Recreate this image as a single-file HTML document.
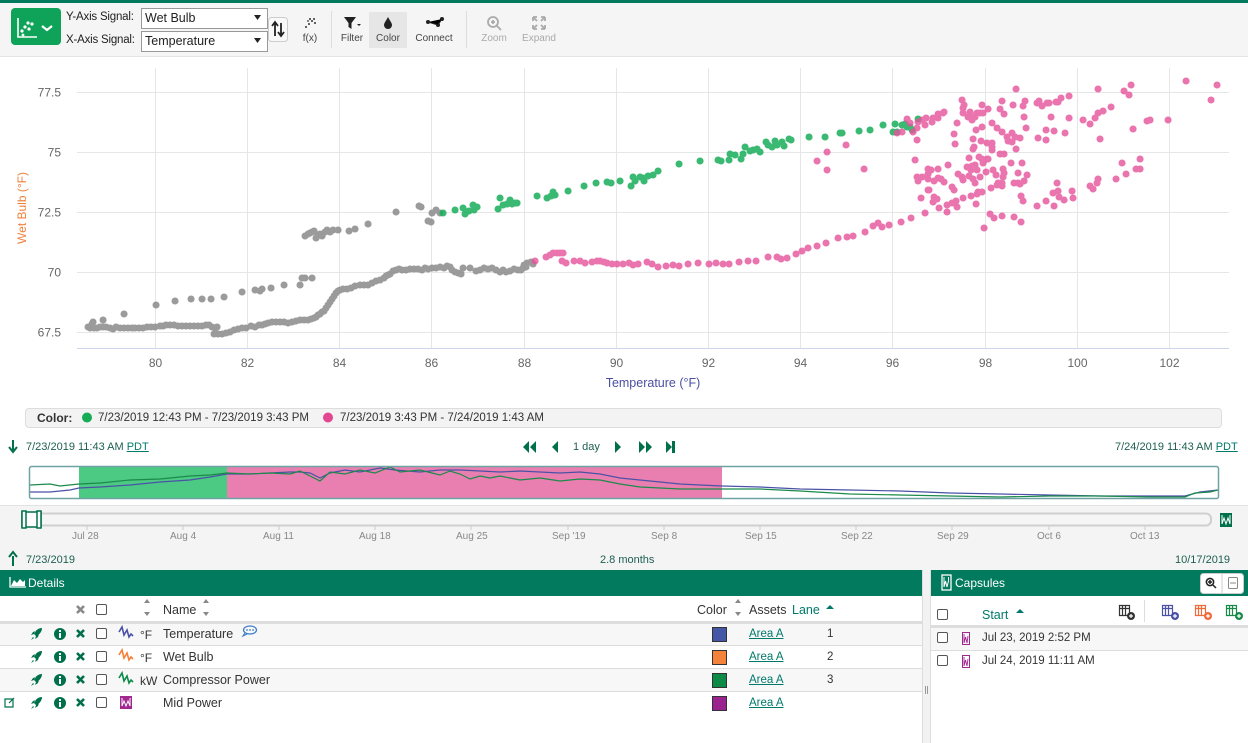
<!DOCTYPE html>
<html><head><meta charset="utf-8">
<style>
*{margin:0;padding:0;box-sizing:border-box}
body{width:1248px;height:743px;overflow:hidden;background:#fff;font-family:"Liberation Sans",sans-serif;color:#333;position:relative}
.a{position:absolute;white-space:nowrap}
.t{font-size:12px}
.lbl{font-size:10px;color:#444;text-align:center}
.g{color:#00704a}
.link{color:#00796b;text-decoration:underline}
.cb{position:absolute;width:11px;height:11px;border:1px solid #555;border-radius:2px;background:#fff}
</style></head><body>

<!-- backgrounds -->
<div class="a" style="left:0;top:0;width:1248px;height:3px;background:#027a5e"></div>
<div class="a" style="left:0;top:3px;width:1248px;height:54px;background:#f5f5f5;border-bottom:1px solid #e4e4e4"></div>
<div class="a" style="left:0;top:505px;width:1248px;height:65px;background:#f4f4f4;border-top:1px solid #e2e2e2"></div>
<div class="a" style="left:0;top:570px;width:922px;height:26px;background:#027a5e"></div>
<div class="a" style="left:931px;top:570px;width:317px;height:26px;background:#027a5e"></div>
<div class="a" style="left:922px;top:570px;width:9px;height:173px;background:#f2f2f2;border-left:1px solid #ddd;border-right:1px solid #ddd"></div>
<!-- details rows -->
<div class="a" style="left:0;top:621px;width:922px;height:3px;background:#ddd"></div>
<div class="a" style="left:0;top:624px;width:922px;height:21px;background:#f7f7f7"></div>
<div class="a" style="left:0;top:645px;width:922px;height:1px;background:#ddd"></div>
<div class="a" style="left:0;top:668px;width:922px;height:1px;background:#ddd"></div>
<div class="a" style="left:0;top:669px;width:922px;height:22px;background:#f7f7f7"></div>
<div class="a" style="left:0;top:691px;width:922px;height:1px;background:#ddd"></div>
<!-- capsules rows -->
<div class="a" style="left:931px;top:625px;width:317px;height:3px;background:#ddd"></div>
<div class="a" style="left:931px;top:628px;width:317px;height:22px;background:#f7f7f7"></div>
<div class="a" style="left:931px;top:650px;width:317px;height:1px;background:#ddd"></div>
<div class="a" style="left:1144px;top:600px;width:1px;height:22px;background:#ddd"></div>

<!-- legend bar -->
<div class="a" style="left:25px;top:408px;width:1197px;height:20px;background:#f3f3f3;border:1px solid #ddd;border-radius:4px"></div>

<svg class="a" style="left:0;top:0" width="1248" height="743" viewBox="0 0 1248 743">
<!-- toolbar icons -->
<rect x="11" y="8" width="50" height="37" rx="4" fill="#0fa35a"/>
<path d="M18 18v19h19" stroke="#fff" stroke-width="1.6" fill="none"/>
<g fill="#fff"><circle cx="22" cy="31" r="1.6"/><circle cx="25" cy="27" r="1.6"/><circle cx="29" cy="29" r="1.6"/><circle cx="28" cy="23" r="1.6"/><circle cx="32" cy="24" r="1.6"/><circle cx="23" cy="35" r="1.4"/></g>
<path d="M42 26l5 4 5-4" stroke="#fff" stroke-width="2.2" fill="none"/>
<rect x="141.5" y="8.5" width="126" height="20" fill="#fff" stroke="#999"/>
<rect x="141.5" y="31.5" width="126" height="20" fill="#fff" stroke="#999"/>
<path d="M254 15h7l-3.5 5z M254 38h7l-3.5 5z" fill="#222"/>
<rect x="268.5" y="17.5" width="19" height="24" rx="3" fill="#f8f8f8" stroke="#ccc"/>
<path d="M275 23v13M272 26l3-4 3 4M281 23v13M278 32l3 4 3-4" stroke="#222" stroke-width="1.8" fill="none"/>
<g fill="#333"><circle cx="306" cy="27" r="1"/><circle cx="309" cy="24" r="1"/><circle cx="312" cy="21" r="1"/><circle cx="314" cy="19" r="1"/><circle cx="310" cy="19" r="1"/><circle cx="315" cy="23" r="1"/><circle cx="308" cy="21" r="0.9"/></g>
<rect x="331" y="11" width="1" height="37" fill="#ddd"/>
<path d="M344 17h12l-4.5 6v6l-3-2v-4z" fill="#222"/><path d="M357 24h4l-2 2z" fill="#222"/>
<rect x="369" y="12" width="38" height="36" fill="#e6e6e6"/>
<path d="M388 17c-2 4-4 6-4 8a4 4 0 0 0 8 0c0-2-2-4-4-8z" fill="#222"/>
<circle cx="428" cy="22" r="2" fill="#222"/><circle cx="438" cy="25" r="2" fill="#222"/><circle cx="442" cy="19" r="2" fill="#222"/><path d="M428 22l10 3 4-6" stroke="#222" stroke-width="1"/>
<rect x="466" y="11" width="1" height="37" fill="#ddd"/>
<circle cx="493" cy="22" r="5" stroke="#aaa" stroke-width="1.8" fill="none"/><path d="M497 26l4 4M491 22h4M493 20v4" stroke="#aaa" stroke-width="1.8"/>
<path d="M533 17l4 4M545 17l-4 4M533 29l4-4M545 29l-4-4M533 17h4M533 17v4M545 17h-4M545 17v4M533 29h4M533 29v-4M545 29h-4M545 29v-4" stroke="#aaa" stroke-width="1.8" fill="none"/>

<!-- grid -->
<g stroke="#e6e6e6" stroke-width="1">
<path d="M77 92.5H1229M77 152.5H1229M77 212.5H1229M77 272.5H1229M77 332.5H1229"/>
<path d="M155.5 68V348M247.5 68V348M339.5 68V348M431.5 68V348M524.5 68V348M616.5 68V348M708.5 68V348M800.5 68V348M892.5 68V348M985.5 68V348M1077.5 68V348M1169.5 68V348"/>
</g>
<path d="M77 348.5H1229" stroke="#ccd6eb" stroke-width="1"/>
<g font-family="Liberation Sans, sans-serif" font-size="12" fill="#666" text-anchor="end">
<text x="61" y="96.5">77.5</text><text x="61" y="156.5">75</text><text x="61" y="216.5">72.5</text><text x="61" y="276.5">70</text><text x="61" y="336.5">67.5</text>
</g>
<g font-family="Liberation Sans, sans-serif" font-size="12" fill="#666" text-anchor="middle">
<text x="155.5" y="367">80</text><text x="247.5" y="367">82</text><text x="339.5" y="367">84</text><text x="431.5" y="367">86</text><text x="524.5" y="367">88</text><text x="616.5" y="367">90</text><text x="708.5" y="367">92</text><text x="800.5" y="367">94</text><text x="892.5" y="367">96</text><text x="985.5" y="367">98</text><text x="1077.5" y="367">100</text><text x="1169.5" y="367">102</text>
</g>
<text x="653" y="387" font-family="Liberation Sans, sans-serif" font-size="12.5" fill="#4a4fa3" text-anchor="middle">Temperature (°F)</text>
<text transform="translate(26,208) rotate(-90)" font-family="Liberation Sans, sans-serif" font-size="12" fill="#f0813c" text-anchor="middle">Wet Bulb (°F)</text>

<!-- scatter: gray -->
<path stroke="#8a8a8a" stroke-opacity="0.85" stroke-width="7" stroke-linecap="round" fill="none" d="M88 327h.1M90 328h.1M92 324h.1M94 328h.1M97 328h.1M100 327h.1M103 327h.1M106 327h.1M110 328h.1M113 329h.1M116 327h.1M120 328h.1M124 328h.1M128 328h.1M132 328h.1M135 328h.1M139 328h.1M143 328h.1M147 327h.1M151 327h.1M155 327h.1M160 326h.1M163 326h.1M166 325h.1M170 325h.1M174 325h.1M178 326h.1M182 326h.1M186 326h.1M190 326h.1M194 326h.1M198 326h.1M202 326h.1M206 325h.1M209 325h.1M212 327h.1M215 328h.1M217 327h.1M214 334h.1M218 334h.1M222 334h.1M226 333h.1M230 332h.1M234 330h.1M238 329h.1M242 328h.1M246 328h.1M251 326h.1M255 327h.1M259 325h.1M262 325h.1M265 324h.1M268 323h.1M272 322h.1M276 322h.1M280 322h.1M284 322h.1M288 323h.1M292 322h.1M296 321h.1M300 320h.1M304 320h.1M308 320h.1M311 319h.1M314 318h.1M316 317h.1M318 315h.1M320 314h.1M322 312h.1M324 311h.1M326 308h.1M328 305h.1M330 302h.1M332 299h.1M334 296h.1M336 293h.1M338 291h.1M340 290h.1M343 289h.1M347 289h.1M351 288h.1M355 286h.1M360 285h.1M364 285h.1M368 285h.1M372 283h.1M376 281h.1M380 280h.1M384 278h.1M386 276h.1M388 275h.1M390 274h.1M393 271h.1M396 270h.1M399 269h.1M402 270h.1M406 270h.1M410 269h.1M414 269h.1M418 269h.1M422 270h.1M425 268h.1M428 269h.1M432 268h.1M436 268h.1M440 267h.1M444 268h.1M447 266h.1M450 267h.1M452 270h.1M455 272h.1M458 273h.1M461 274h.1M463 268h.1M470 268h.1M476 271h.1M480 270h.1M484 268h.1M488 269h.1M492 268h.1M496 270h.1M500 272h.1M503 270h.1M506 272h.1M510 271h.1M514 269h.1M518 270h.1M521 270h.1M523 268h.1M524 265h.1M526 267h.1M527 263h.1M531 262h.1M533 264h.1M93 322h.1M103 320h.1M124 314h.1M156 305h.1M175 301h.1M191 299h.1M202 299h.1M211 299h.1M224 297h.1M242 292h.1M255 290h.1M260 291h.1M262 289h.1M271 288h.1M284 285h.1M300 285h.1M302 278h.1M305 278h.1M312 278h.1M305 236h.1M308 234h.1M310 233h.1M312 232h.1M314 231h.1M316 238h.1M318 235h.1M320 234h.1M322 236h.1M325 232h.1M327 230h.1M330 232h.1M333 230h.1M338 230h.1M349 231h.1M355 229h.1M368 224h.1M396 212h.1M419 206h.1M421 207h.1M428 221h.1M431 222h.1M432 213h.1M436 210h.1M440 213h.1"/>
<!-- scatter: green -->
<path stroke="#17ad5a" stroke-opacity="0.85" stroke-width="7" stroke-linecap="round" fill="none" d="M443 213h.1M455 210h.1M463 208h.1M465 214h.1M469 211h.1M473 205h.1M474 210h.1M477 207h.1M498 209h.1M500 198h.1M503 205h.1M507 204h.1M510 200h.1M512 204h.1M515 203h.1M517 203h.1M537 196h.1M547 198h.1M551 196h.1M553 192h.1M555 195h.1M568 191h.1M584 186h.1M596 183h.1M607 182h.1M611 183h.1M620 181h.1M631 186h.1M633 177h.1M635 181h.1M640 177h.1M643 178h.1M644 181h.1M648 176h.1M653 175h.1M658 171h.1M679 164h.1M700 161h.1M718 160h.1M721 161h.1M729 160h.1M730 154h.1M735 155h.1M741 159h.1M743 154h.1M745 147h.1M750 151h.1M753 150h.1M757 149h.1M760 152h.1M766 142h.1M768 145h.1M772 147h.1M775 141h.1M777 145h.1M782 142h.1M784 146h.1M789 139h.1M791 140h.1M809 137h.1M825 137h.1M840 133h.1M842 133h.1M859 131h.1M870 130h.1M883 125h.1M895 124h.1M893 132h.1M897 132h.1M902 125h.1M905 124h.1M907 127h.1M910 127h.1M918 119h.1M912 130h.1"/>
<!-- scatter: pink -->
<path stroke="#e5529a" stroke-opacity="0.8" stroke-width="7" stroke-linecap="round" fill="none" d="M535 261h.1M546 257h.1M550 255h.1M553 253h.1M557 253h.1M560 253h.1M563 253h.1M562 261h.1M566 263h.1M574 261h.1M580 261h.1M585 263h.1M592 262h.1M597 261h.1M600 261h.1M604 262h.1M607 263h.1M612 264h.1M617 264h.1M623 264h.1M629 263h.1M633 265h.1M638 264h.1M647 262h.1M652 264h.1M658 267h.1M666 266h.1M673 265h.1M679 266h.1M688 264h.1M698 263h.1M709 264h.1M716 263h.1M723 264h.1M729 264h.1M739 262h.1M748 261h.1M756 261h.1M768 257h.1M777 257h.1M781 259h.1M787 258h.1M796 254h.1M802 251h.1M808 248h.1M817 246h.1M826 243h.1M838 238h.1M817 161h.1M827 152h.1M827 170h.1M847 237h.1M853 236h.1M865 232h.1M873 226h.1M878 223h.1M882 227h.1M889 225h.1M901 222h.1M911 218h.1M925 213h.1M846 145h.1M864 169h.1M897 133h.1M902 132h.1M907 119h.1M910 123h.1M913 132h.1M917 128h.1M918 122h.1M922 120h.1M926 118h.1M925 125h.1M932 122h.1M933 118h.1M938 118h.1M938 114h.1M943 113h.1M944 112h.1M917 140h.1M962 100h.1M963 108h.1M964 105h.1M963 113h.1M968 117h.1M970 112h.1M972 120h.1M973 117h.1M975 117h.1M977 113h.1M980 113h.1M982 105h.1M983 113h.1M988 109h.1M957 123h.1M954 134h.1M955 144h.1M976 130h.1M982 127h.1M973 139h.1M981 141h.1M974 147h.1M973 149h.1M987 143h.1M992 147h.1M992 143h.1M992 150h.1M992 123h.1M997 128h.1M1002 132h.1M1000 109h.1M1002 101h.1M1004 114h.1M1007 137h.1M1008 141h.1M1012 133h.1M1012 142h.1M1015 137h.1M1016 149h.1M1020 138h.1M1013 105h.1M1016 89h.1M1023 106h.1M1025 101h.1M1024 117h.1M1026 128h.1M1037 103h.1M1039 101h.1M1042 106h.1M1047 103h.1M1049 103h.1M1051 117h.1M1056 102h.1M1058 102h.1M1061 98h.1M1069 96h.1M1038 138h.1M1046 130h.1M1046 140h.1M1054 131h.1M1065 133h.1M1069 118h.1M1083 120h.1M1090 124h.1M1095 118h.1M1098 113h.1M1103 111h.1M1111 107h.1M1098 89h.1M1100 139h.1M1124 91h.1M1129 95h.1M1131 85h.1M1133 129h.1M1147 121h.1M1150 120h.1M1168 120h.1M1186 81h.1M1211 100h.1M1217 85h.1M915 160h.1M917 177h.1M918 181h.1M922 177h.1M928 174h.1M928 169h.1M931 170h.1M928 179h.1M928 190h.1M934 181h.1M938 178h.1M938 169h.1M941 179h.1M944 182h.1M948 165h.1M952 187h.1M954 190h.1M958 174h.1M962 177h.1M963 180h.1M967 167h.1M969 158h.1M969 176h.1M971 170h.1M972 166h.1M973 179h.1M975 165h.1M975 183h.1M977 170h.1M979 157h.1M980 177h.1M982 159h.1M983 163h.1M985 160h.1M986 172h.1M987 159h.1M988 159h.1M993 170h.1M996 175h.1M998 183h.1M1000 154h.1M1003 169h.1M1004 173h.1M1003 177h.1M1002 183h.1M1002 186h.1M1004 154h.1M1011 163h.1M1014 183h.1M1018 173h.1M1018 183h.1M1020 184h.1M1022 163h.1M1024 181h.1M1027 175h.1M991 188h.1M997 185h.1M921 198h.1M929 190h.1M933 202h.1M934 197h.1M937 199h.1M939 208h.1M947 205h.1M947 212h.1M952 203h.1M956 201h.1M957 207h.1M963 198h.1M971 196h.1M976 204h.1M977 194h.1M978 192h.1M982 192h.1M984 228h.1M990 214h.1M994 218h.1M1002 216h.1M1014 217h.1M1021 222h.1M1021 196h.1M1023 201h.1M1037 206h.1M1046 201h.1M1054 206h.1M1053 193h.1M1057 183h.1M1058 191h.1M1059 197h.1M1064 200h.1M1072 191h.1M1073 198h.1M1090 186h.1M1093 189h.1M1097 183h.1M1098 179h.1M1116 179h.1M1122 163h.1M1126 174h.1M1136 169h.1M1140 169h.1M1140 159h.1"/>

<!-- legend dots -->
<circle cx="87" cy="417.5" r="5" fill="#16ab55"/>
<circle cx="328" cy="417.5" r="5" fill="#e2478f"/>

<!-- nav arrows -->
<path d="M13 440v10M9 447l4 5 4-5" stroke="#00704a" stroke-width="2" fill="none"/>
<path d="M13 566v-10M9 557l4-5 4 5" stroke="#00704a" stroke-width="2" fill="none"/>
<g fill="#00704a">
<path d="M529 441v12l-6-6zM536 441v12l-6-6z"/>
<path d="M558 441v12l-6-6z"/>
<path d="M615 441v12l6-6z"/>
<path d="M639 441v12l6-6zM646 441v12l6-6z"/>
<path d="M666 441v12l6-6z"/><rect x="672" y="441" width="3" height="12"/>
</g>

<!-- mini chart -->
<rect x="29.5" y="466.5" width="1189" height="32" fill="#fff"/>
<rect x="79" y="467" width="148" height="31" fill="#4cc983"/>
<rect x="227" y="467" width="495" height="31" fill="#e97fb0"/>
<polyline fill="none" stroke="#4b52a6" stroke-width="1.2" points="30,492 50,492 70,490 79,488 100,487 130,485 160,482 190,480 210,477 227,474 250,474 270,473 290,472 300,472 310,473 320,478 330,473 345,470 360,472 380,468 395,470 420,472 440,470 460,470 480,471 500,472 520,471 540,472 560,473 580,472 600,474 620,478 640,480 660,482 680,484 700,485 722,486 760,487 800,489 850,490 900,491 950,493 1000,494 1050,495 1100,496 1150,496 1185,496 1200,492 1218,490"/>
<polyline fill="none" stroke="#1b8a4a" stroke-width="1.2" points="30,485 50,484 60,486 79,484 100,483 130,480 160,479 190,476 210,475 227,473 250,474 270,473 290,474 300,471 310,476 320,481 330,472 345,474 360,470 375,473 390,467 400,472 420,470 440,475 450,471 460,474 470,479 480,476 490,478 500,476 510,478 520,480 540,478 560,481 580,479 600,480 620,484 640,487 660,488 680,489 722,489 760,489 800,491 850,494 900,495 950,496 1000,497 1050,496 1100,496 1150,497 1185,497 1195,493 1210,492 1218,490"/>
<rect x="29.5" y="466.5" width="1189" height="32" rx="2" fill="none" stroke="#6fa3a3" stroke-width="1.5"/>

<!-- slider -->
<rect x="36" y="513.5" width="1175" height="12" rx="5" fill="#f5f5f5" stroke="#cfcfcf" stroke-width="2"/>
<g stroke="#ccc" stroke-width="1"><path d="M87 526v4M183 526v4M279 526v4M375 526v4M471 526v4M568 526v4M664 526v4M760 526v4M856 526v4M952 526v4M1049 526v4M1145 526v4"/></g>
<rect x="22" y="512" width="19" height="15" fill="#fff" stroke="#00704a" stroke-width="1.5"/>
<rect x="22" y="511" width="4" height="17" fill="#fff" stroke="#00704a" stroke-width="1.5"/>
<rect x="37" y="511" width="4" height="17" fill="#fff" stroke="#00704a" stroke-width="1.5"/>
<rect x="1220" y="513" width="12" height="14" fill="#00704a"/>
<path d="M1222 515v9l2-6 2 6 2-6 2 6v-9" stroke="#fff" stroke-width="1" fill="none"/>

<!-- details header icon -->
<path d="M10 577v10h16" stroke="#fff" stroke-width="1.3" fill="none"/>
<path d="M11 586l3-6 3 3 3-4 3 3 2-2v6z" fill="#fff"/>

<!-- details row icons -->
<g fill="#00704a">
<path d="M42 628c-4 0-7 3-8 6l2 2c3-1 6-4 6-8zM34 634l-3 1 2-3 3-1zM36 636l-1 3 3-2 1-3zM33 637l-2 3 3-2z"/>
<path d="M42 651c-4 0-7 3-8 6l2 2c3-1 6-4 6-8zM34 657l-3 1 2-3 3-1zM36 659l-1 3 3-2 1-3zM33 660l-2 3 3-2z"/>
<path d="M42 674c-4 0-7 3-8 6l2 2c3-1 6-4 6-8zM34 680l-3 1 2-3 3-1zM36 682l-1 3 3-2 1-3zM33 683l-2 3 3-2z"/>
<path d="M42 697c-4 0-7 3-8 6l2 2c3-1 6-4 6-8zM34 703l-3 1 2-3 3-1zM36 705l-1 3 3-2 1-3zM33 706l-2 3 3-2z"/>
<circle cx="60" cy="634" r="6"/><circle cx="60" cy="657" r="6"/><circle cx="60" cy="680" r="6"/><circle cx="60" cy="703" r="6"/>
</g>
<g fill="#fff"><rect x="59" y="633" width="2" height="5"/><rect x="59" y="630" width="2" height="2"/><rect x="59" y="656" width="2" height="5"/><rect x="59" y="653" width="2" height="2"/><rect x="59" y="679" width="2" height="5"/><rect x="59" y="676" width="2" height="2"/><rect x="59" y="702" width="2" height="5"/><rect x="59" y="699" width="2" height="2"/></g>
<g stroke-width="2.6" stroke-linecap="butt">
<path d="M77 606l7 7M84 606l-7 7" stroke="#888"/>
<path d="M77 630l7 7M84 630l-7 7M77 653l7 7M84 653l-7 7M77 676l7 7M84 676l-7 7M77 699l7 7M84 699l-7 7" stroke="#00704a"/>
</g>
<path d="M5 699h8v8H5zM9 703l5-5" stroke="#00704a" stroke-width="1.2" fill="none"/>
<polyline points="119,632 122,627 124,635 127,630 129,637 131,634 133,636" fill="none" stroke="#4b52a6" stroke-width="1.6"/>
<polyline points="119,655 122,650 124,658 127,653 129,660 131,657 133,659" fill="none" stroke="#f57f36" stroke-width="1.6"/>
<polyline points="119,678 122,673 124,681 127,676 129,683 131,680 133,682" fill="none" stroke="#0b8a4a" stroke-width="1.6"/>
<rect x="120" y="696" width="12" height="13" fill="#a0288f"/>
<path d="M122 698v8l2-5 2 5 2-5 2 5v-8" stroke="#fff" stroke-width="1" fill="none"/>
<path d="M144 603l3-4 3 4zM144 612l3 4 3-4z" fill="#888"/>
<path d="M203 603l3-4 3 4zM203 612l3 4 3-4z" fill="#888"/>
<path d="M735 603l3-4 3 4zM735 612l3 4 3-4z" fill="#888"/>
<path d="M826 609l4-4 4 4z" fill="#00796b"/>
<ellipse cx="250" cy="630" rx="6.5" ry="4" fill="none" stroke="#3b7bc9" stroke-width="1.2"/>
<path d="M245 633l-2 3 4-2" fill="none" stroke="#3b7bc9" stroke-width="1.1"/>
<g fill="#3b7bc9"><circle cx="247" cy="630" r="0.9"/><circle cx="250" cy="630" r="0.9"/><circle cx="253" cy="630" r="0.9"/></g>
<!-- swatches -->
<rect x="712.5" y="627.5" width="14" height="14" fill="#4456a6" stroke="#333"/>
<rect x="712.5" y="650.5" width="14" height="14" fill="#f5823a" stroke="#333"/>
<rect x="712.5" y="673.5" width="14" height="14" fill="#0c8a46" stroke="#333"/>
<rect x="712.5" y="696.5" width="14" height="14" fill="#9b2390" stroke="#333"/>
<!-- divider grip -->
<path d="M925.5 686v8M927.5 686v8" stroke="#999" stroke-width="1"/>

<!-- capsules -->
<rect x="942" y="575" width="9" height="15" fill="none" stroke="#fff" stroke-width="1.3"/>
<path d="M944 577v10l1.5-6 1.5 6 1.5-6v-4" stroke="#fff" stroke-width="1" fill="none"/>
<rect x="1200.5" y="573.5" width="43" height="20" rx="3" fill="#fff" stroke="#ccc"/>
<path d="M1222 574v19" stroke="#ccc"/>
<circle cx="1210" cy="582" r="3.6" stroke="#222" stroke-width="1.6" fill="none"/><path d="M1213 585l3 3M1208 582h4M1210 580v4" stroke="#222" stroke-width="1.5"/>
<rect x="1228.5" y="577.5" width="9" height="11" rx="1" fill="none" stroke="#888"/><path d="M1230 583h6" stroke="#888"/>
<path d="M1016 613l4-4 4 4z" fill="#00796b"/>
<g fill="none" stroke-width="1.2">
<path d="M1119.5 605.5h10v10h-10zM1119.5 608.5h10M1122.5 605.5v10M1125.5 605.5v10" stroke="#333"/>
<path d="M1162.5 605.5h10v10h-10zM1162.5 608.5h10M1165.5 605.5v10M1168.5 605.5v10" stroke="#4b52a6"/>
<path d="M1195.5 605.5h10v10h-10zM1195.5 608.5h10M1198.5 605.5v10M1201.5 605.5v10" stroke="#f06a3a"/>
<path d="M1226.5 605.5h10v10h-10zM1226.5 608.5h10M1229.5 605.5v10M1232.5 605.5v10" stroke="#1a8a4a"/>
</g>
<circle cx="1131" cy="616" r="4" fill="#333"/><circle cx="1175" cy="616" r="4" fill="#4b52a6"/><circle cx="1208" cy="616" r="4" fill="#f06a3a"/><circle cx="1239" cy="616" r="4" fill="#1a8a4a"/>
<path d="M1129 616h4M1131 614v4M1173 616h4M1175 614v4M1206 616h4M1208 614v4M1237 616h4M1239 614v4" stroke="#fff" stroke-width="1.2"/>
<rect x="962.5" y="632.5" width="7" height="12" fill="none" stroke="#a0288f"/>
<path d="M964 634v9l1.5-6 1.5 6 1-7" stroke="#a0288f" stroke-width="0.9" fill="none"/>
<rect x="962.5" y="655.5" width="7" height="12" fill="none" stroke="#a0288f"/>
<path d="M964 657v9l1.5-6 1.5 6 1-7" stroke="#a0288f" stroke-width="0.9" fill="none"/>
</svg>

<!-- toolbar text -->
<div class="a t" style="left:66px;top:11px;font-size:11.5px;letter-spacing:-0.2px;color:#222">Y-Axis Signal:</div>
<div class="a t" style="left:66px;top:34px;font-size:11.5px;letter-spacing:-0.2px;color:#222">X-Axis Signal:</div>
<div class="a t" style="left:145px;top:11px;font-size:12.5px;color:#222">Wet Bulb</div>
<div class="a t" style="left:145px;top:34px;font-size:12.5px;color:#222">Temperature</div>
<div class="a lbl" style="left:295px;top:33px;width:30px">f(x)</div>
<div class="a lbl" style="left:337px;top:33px;width:30px">Filter</div>
<div class="a lbl" style="left:372px;top:33px;width:32px">Color</div>
<div class="a lbl" style="left:410px;top:33px;width:48px">Connect</div>
<div class="a lbl" style="left:478px;top:33px;width:32px;color:#aaa">Zoom</div>
<div class="a lbl" style="left:519px;top:33px;width:40px;color:#aaa">Expand</div>

<!-- legend text -->
<div class="a t" style="left:37px;top:411px;font-weight:bold;color:#333">Color:</div>
<div class="a t" style="left:98px;top:412px;color:#333;font-size:11.5px">7/23/2019 12:43 PM - 7/23/2019 3:43 PM</div>
<div class="a t" style="left:340px;top:412px;color:#333;font-size:11.5px">7/23/2019 3:43 PM - 7/24/2019 1:43 AM</div>

<!-- time bar -->
<div class="a t" style="left:26px;top:441px;font-size:11px;color:#1d5f50">7/23/2019 11:43 AM <span class="link">PDT</span></div>
<div class="a t" style="left:573px;top:441px;font-size:11px;color:#1d5f50">1 day</div>
<div class="a t" style="left:1115px;top:441px;font-size:11px;color:#1d5f50">7/24/2019 11:43 AM <span class="link">PDT</span></div>

<div class="a" style="left:0;top:531px;width:1248px;font-size:10px;color:#888">
<span class="a" style="left:72px">Jul 28</span><span class="a" style="left:170px">Aug 4</span><span class="a" style="left:263px">Aug 11</span><span class="a" style="left:359px">Aug 18</span><span class="a" style="left:456px">Aug 25</span><span class="a" style="left:552px">Sep '19</span><span class="a" style="left:651px">Sep 8</span><span class="a" style="left:745px">Sep 15</span><span class="a" style="left:841px">Sep 22</span><span class="a" style="left:937px">Sep 29</span><span class="a" style="left:1037px">Oct 6</span><span class="a" style="left:1130px">Oct 13</span>
</div>
<div class="a t" style="left:26px;top:554px;font-size:11px;color:#1d5f50">7/23/2019</div>
<div class="a t" style="left:600px;top:554px;font-size:11px;color:#1d5f50">2.8 months</div>
<div class="a t" style="left:1175px;top:554px;font-size:11px;color:#1d5f50">10/17/2019</div>

<!-- details -->
<div class="a t" style="left:28px;top:576px;color:#fff;font-size:12px">Details</div>
<div class="cb" style="left:96px;top:604px"></div>
<div class="a t" style="left:163px;top:603px;font-size:12.5px">Name</div>
<div class="a t" style="left:697px;top:603px;font-size:12.5px">Color</div>
<div class="a t" style="left:749px;top:603px;font-size:12.5px">Assets</div>
<div class="a t" style="left:792px;top:603px;font-size:12.5px;color:#00796b">Lane</div>

<div class="cb" style="left:96px;top:628px"></div>
<div class="cb" style="left:96px;top:651px"></div>
<div class="cb" style="left:96px;top:674px"></div>
<div class="cb" style="left:96px;top:697px"></div>
<div class="a t" style="left:140px;top:628px;font-size:12px">°F</div>
<div class="a t" style="left:140px;top:651px;font-size:12px">°F</div>
<div class="a t" style="left:140px;top:674px;font-size:12px">kW</div>
<div class="a t" style="left:163px;top:627px;font-size:12.5px">Temperature</div>
<div class="a t" style="left:163px;top:650px;font-size:12.5px">Wet Bulb</div>
<div class="a t" style="left:163px;top:673px;font-size:12.5px">Compressor Power</div>
<div class="a t" style="left:163px;top:696px;font-size:12.5px">Mid Power</div>
<div class="a t link" style="left:749px;top:628px;font-size:11.5px">Area A</div>
<div class="a t link" style="left:749px;top:651px;font-size:11.5px">Area A</div>
<div class="a t link" style="left:749px;top:674px;font-size:11.5px">Area A</div>
<div class="a t link" style="left:749px;top:697px;font-size:11.5px">Area A</div>
<div class="a t" style="left:827px;top:628px;font-size:11.5px">1</div>
<div class="a t" style="left:827px;top:651px;font-size:11.5px">2</div>
<div class="a t" style="left:827px;top:674px;font-size:11.5px">3</div>

<!-- capsules -->
<div class="a t" style="left:955px;top:576px;color:#fff;font-size:12px">Capsules</div>
<div class="cb" style="left:937px;top:609px"></div>
<div class="a t" style="left:982px;top:608px;font-size:12.5px;color:#00796b">Start</div>
<div class="cb" style="left:937px;top:632px"></div>
<div class="cb" style="left:937px;top:655px"></div>
<div class="a t" style="left:982px;top:632px;font-size:11.5px">Jul 23, 2019 2:52 PM</div>
<div class="a t" style="left:982px;top:655px;font-size:11.5px">Jul 24, 2019 11:11 AM</div>
</body></html>
